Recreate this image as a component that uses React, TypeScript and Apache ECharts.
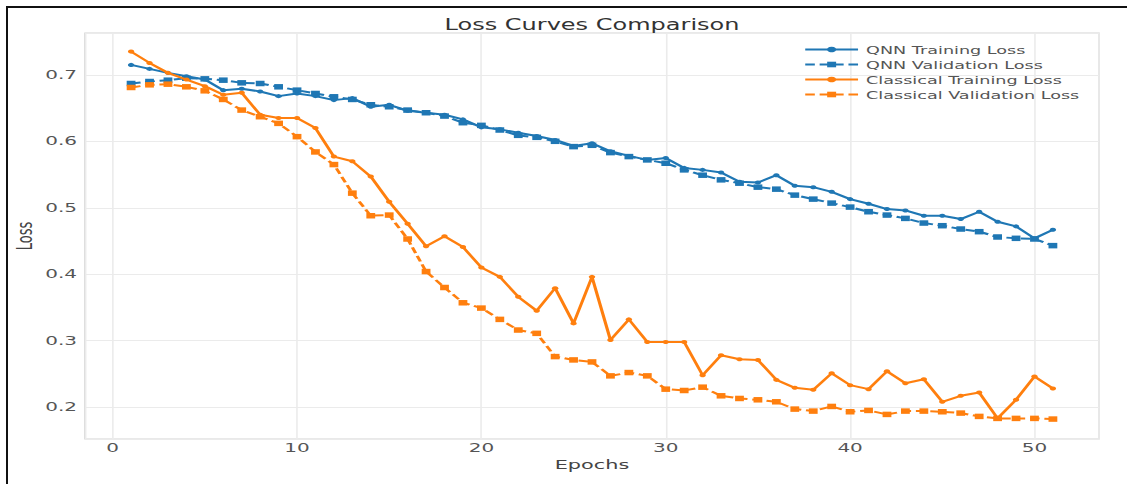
import { useEffect, useRef } from "react";
import * as echarts from "echarts";

const epochs = [
  1, 2, 3, 4, 5, 6, 7, 8, 9, 10, 11, 12, 13, 14, 15, 16, 17, 18, 19, 20, 21, 22, 23, 24, 25,
  26, 27, 28, 29, 30, 31, 32, 33, 34, 35, 36, 37, 38, 39, 40, 41, 42, 43, 44, 45, 46, 47, 48,
  49, 50, 51,
];

const qnnTrain = [
  0.715, 0.709, 0.703, 0.698, 0.693, 0.677, 0.679, 0.675, 0.668, 0.672, 0.668, 0.662, 0.665,
  0.652, 0.655, 0.646, 0.643, 0.64, 0.633, 0.621, 0.618, 0.613, 0.608, 0.602, 0.593, 0.597,
  0.585, 0.578, 0.572, 0.575, 0.56, 0.557, 0.553, 0.539, 0.538, 0.549, 0.533, 0.531, 0.524,
  0.513, 0.506, 0.498, 0.496, 0.488, 0.488, 0.483, 0.494, 0.479, 0.472, 0.454, 0.467,
];

const qnnVal = [
  0.687, 0.69, 0.692, 0.695, 0.694, 0.692, 0.688, 0.687, 0.682, 0.677, 0.672, 0.667, 0.663,
  0.655, 0.652, 0.647, 0.643, 0.638, 0.628, 0.624, 0.617, 0.609, 0.606, 0.6, 0.592, 0.594,
  0.583, 0.577, 0.572, 0.567, 0.557, 0.549, 0.542, 0.537, 0.531, 0.528, 0.519, 0.513, 0.507,
  0.501, 0.494, 0.489, 0.484, 0.477, 0.473, 0.468, 0.464, 0.456, 0.454, 0.453, 0.443,
];

const classicalTrain = [
  0.735, 0.718, 0.703, 0.693, 0.683, 0.67, 0.673, 0.64, 0.635, 0.635, 0.62, 0.577, 0.57,
  0.547, 0.509, 0.476, 0.442, 0.457, 0.441, 0.41, 0.396, 0.366, 0.345, 0.379, 0.326, 0.396,
  0.301, 0.332, 0.298, 0.298, 0.298, 0.248, 0.278, 0.272, 0.271, 0.241, 0.229, 0.226, 0.251,
  0.233, 0.227, 0.254, 0.236, 0.242, 0.208, 0.217, 0.222, 0.183, 0.211, 0.246, 0.228,
];

const classicalVal = [
  0.681, 0.685, 0.686, 0.682, 0.676, 0.663, 0.647, 0.637, 0.627, 0.607, 0.584, 0.565, 0.522,
  0.488, 0.489, 0.453, 0.404, 0.38, 0.357, 0.349, 0.332, 0.316, 0.311, 0.276, 0.271, 0.268,
  0.247, 0.252, 0.247, 0.227, 0.225, 0.23, 0.217, 0.213, 0.211, 0.208, 0.197, 0.194, 0.201,
  0.193, 0.195, 0.189, 0.194, 0.194, 0.193, 0.191, 0.186, 0.183, 0.183, 0.183, 0.182,
];

const seriesNames = [
  "QNN Training Loss",
  "QNN Validation Loss",
  "Classical Training Loss",
  "Classical Validation Loss",
];

const BLUE = "#1f77b4";
const ORANGE = "#ff7f0e";
const W = 704;
const H = 484;
const S = 1127 / W;
const FONT = '"DejaVu Sans", "Liberation Sans", sans-serif';

const zip = (ys: number[]) => epochs.map((e, i) => [e, ys[i]]);

export default function App() {
  const ref = useRef<HTMLDivElement>(null);

  useEffect(() => {
    if (!ref.current) return;
    const chart = echarts.init(ref.current, null, { renderer: "svg" });
    const plotLeft = 85 / S;
    const plotRight = (1127 - 1099) / S;
    const plotCenter = (plotLeft + (W - plotRight)) / 2;

    const trainSeries = (name: string, color: string, ys: number[], z: number) => ({
      name,
      type: "line",
      data: zip(ys),
      symbol: "circle",
      symbolSize: 4,
      showAllSymbol: true,
      lineStyle: { color, width: 2 },
      itemStyle: { color },
      z,
    });
    const valSeries = (name: string, color: string, ys: number[], z: number) => ({
      name,
      type: "line",
      data: zip(ys),
      symbol: "rect",
      symbolSize: 5.5,
      showAllSymbol: true,
      lineStyle: { color, width: 2, type: [6, 3] },
      itemStyle: { color },
      z,
    });

    chart.setOption({
      animation: false,
      backgroundColor: "#ffffff",
      textStyle: { fontFamily: FONT },
      graphic: [
        {
          type: "text",
          x: plotCenter,
          y: 17,
          style: {
            text: "Loss Curves Comparison",
            fill: "#333333",
            font: `15px ${FONT}`,
            align: "center",
            verticalAlign: "top",
          },
        },
      ],
      grid: {
        left: plotLeft,
        right: plotRight,
        top: 33,
        bottom: 45,
        containLabel: false,
        outerBoundsMode: "none",
        show: true,
        borderColor: "#d4d4d4",
        borderWidth: 1,
        backgroundColor: "#ffffff",
      },
      legend: {
        orient: "vertical",
        left: 502,
        top: 43,
        itemWidth: 33,
        itemHeight: 7,
        itemGap: 2,
        padding: 0,
        data: seriesNames,
        textStyle: { fontSize: 11, lineHeight: 13, color: "#555555", fontFamily: FONT },
      },
      xAxis: {
        type: "value",
        min: -1.5,
        max: 53.5,
        splitNumber: 5,
        name: "Epochs",
        nameLocation: "middle",
        nameGap: 19,
        nameMoveOverlap: false,
        nameTextStyle: { fontSize: 13, color: "#444444", fontFamily: FONT },
        axisLine: { show: false },
        axisTick: { show: false },
        axisLabel: {
          color: "#555555",
          fontSize: 12.5,
          margin: 2,
          fontFamily: FONT,
          showMinLabel: false,
          showMaxLabel: false,
          formatter: (v: number) => (Math.abs(v / 10 - Math.round(v / 10)) < 1e-6 ? String(Math.round(v)) : ""),
        },
        splitLine: { show: true, lineStyle: { color: "#ebebeb", width: 1 } },
      },
      yAxis: {
        type: "value",
        min: 0.152,
        max: 0.763,
        splitNumber: 6,
        name: "Loss",
        nameLocation: "middle",
        nameGap: 31,
        nameMoveOverlap: false,
        nameRotate: 90,
        nameTextStyle: { fontSize: 13, color: "#444444", fontFamily: FONT },
        axisLine: { show: false },
        axisTick: { show: false },
        axisLabel: {
          color: "#555555",
          fontSize: 12.5,
          margin: 5,
          fontFamily: FONT,
          showMinLabel: false,
          showMaxLabel: false,
          formatter: (v: number) => (Math.abs(v * 10 - Math.round(v * 10)) < 1e-6 ? v.toFixed(1) : ""),
        },
        splitLine: { show: true, lineStyle: { color: "#ebebeb", width: 1 } },
      },
      series: [
        trainSeries(seriesNames[0], BLUE, qnnTrain, 2),
        valSeries(seriesNames[1], BLUE, qnnVal, 3),
        trainSeries(seriesNames[2], ORANGE, classicalTrain, 4),
        valSeries(seriesNames[3], ORANGE, classicalVal, 5),
      ],
    });
    return () => chart.dispose();
  }, []);

  return (
    <div
      style={{
        position: "absolute",
        left: 0,
        top: 0,
        width: 1127,
        height: H,
        overflow: "hidden",
        background: "#ffffff",
      }}
    >
      <div
        ref={ref}
        style={{
          position: "absolute",
          left: 0,
          top: 0,
          width: W,
          height: H,
          transform: `scaleX(${S})`,
          transformOrigin: "0 0",
        }}
      />
      <div
        style={{
          position: "absolute",
          left: 6,
          top: 6,
          right: -4,
          bottom: -4,
          borderTop: "2px solid #111111",
          borderLeft: "2px solid #111111",
          pointerEvents: "none",
        }}
      />
    </div>
  );
}
